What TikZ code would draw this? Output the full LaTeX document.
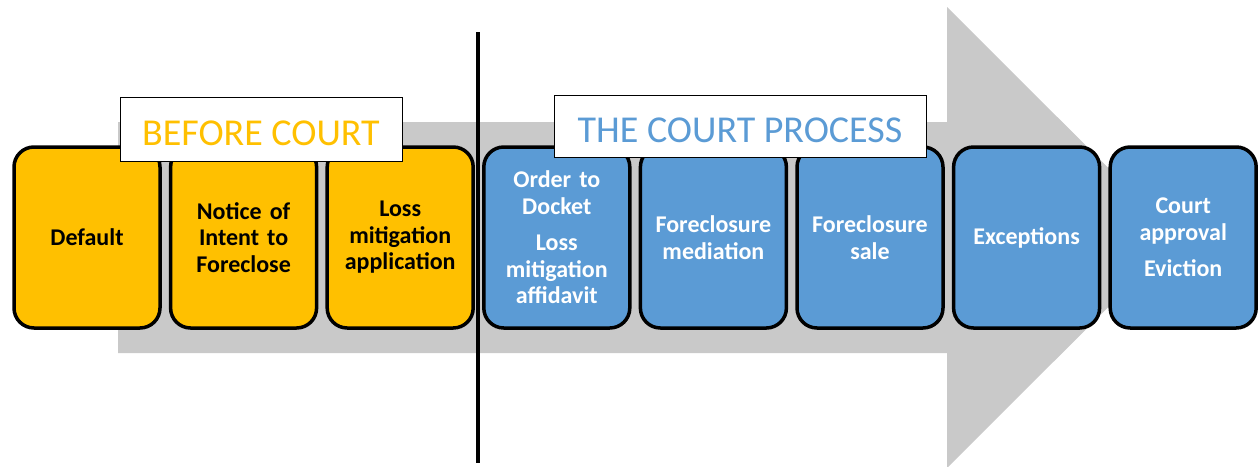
\documentclass[tikz,border=0pt]{standalone}
\usepackage{fontspec}
\setmainfont{Carlito}
\definecolor{orng}{HTML}{FFC000}
\definecolor{blu}{HTML}{5B9BD5}
\definecolor{arrowgray}{HTML}{C9C9C9}
\begin{document}
\begin{tikzpicture}[x=1pt,y=-1pt,
  stepbox/.style={draw=black, line width=3.5pt, rounded corners=20pt,
    minimum width=146pt, minimum height=181pt, text width=142pt,
    align=center, inner sep=0pt, font=\bfseries\fontsize{24}{26.5}\selectfont},
  prebox/.style={stepbox, fill=orng, text=black},
  courtbox/.style={stepbox, fill=blu, text=white},
  titlebox/.style={draw=black, line width=0.8pt, fill=white, inner sep=0pt,
    text height=32pt, text depth=0pt, font=\fontsize{38}{42}\selectfont}]
\useasboundingbox (0,0) rectangle (1258,466);
\clip (0,0) rectangle (1258,466);
% big gray arrow
\fill[arrowgray] (118,122) -- (947,122) -- (947,7) -- (1178,237.5)
  -- (947,468) -- (947,353) -- (118,353) -- cycle;
% step boxes
\node[prebox] (b1) at (87,237.5) {Default};
\node[prebox] (b2) at (243.6,237.5) {Notice of\\Intent to\\Foreclose};
\node[prebox] (b3) at (400.2,237.5) {Loss\\mitigation\\application};
\node[courtbox] (b4) at (556.8,237.5) {Order to\\Docket\\[10pt]Loss\\mitigation\\affidavit};
\node[courtbox] (b5) at (713.4,237.5) {Foreclosure\\mediation};
\node[courtbox] (b6) at (870,237.5) {Foreclosure\\sale};
\node[courtbox] (b7) at (1026.6,237.5) {Exceptions};
\node[courtbox] (b8) at (1183.2,237.5) {Court\\approval\\[10pt]Eviction};
% titles
\node[titlebox, minimum width=282pt, minimum height=64pt, text=orng] (t1) at (261,129) {BEFORE COURT};
\node[titlebox, minimum width=372pt, minimum height=62pt, text=blu] (t2) at (740,126) {THE COURT PROCESS};
% divider
\coordinate (dtop) at (478,32);
\coordinate (dbot) at (478,463);
\draw[line width=4pt] (dtop) -- (dbot);
\end{tikzpicture}
\end{document}
